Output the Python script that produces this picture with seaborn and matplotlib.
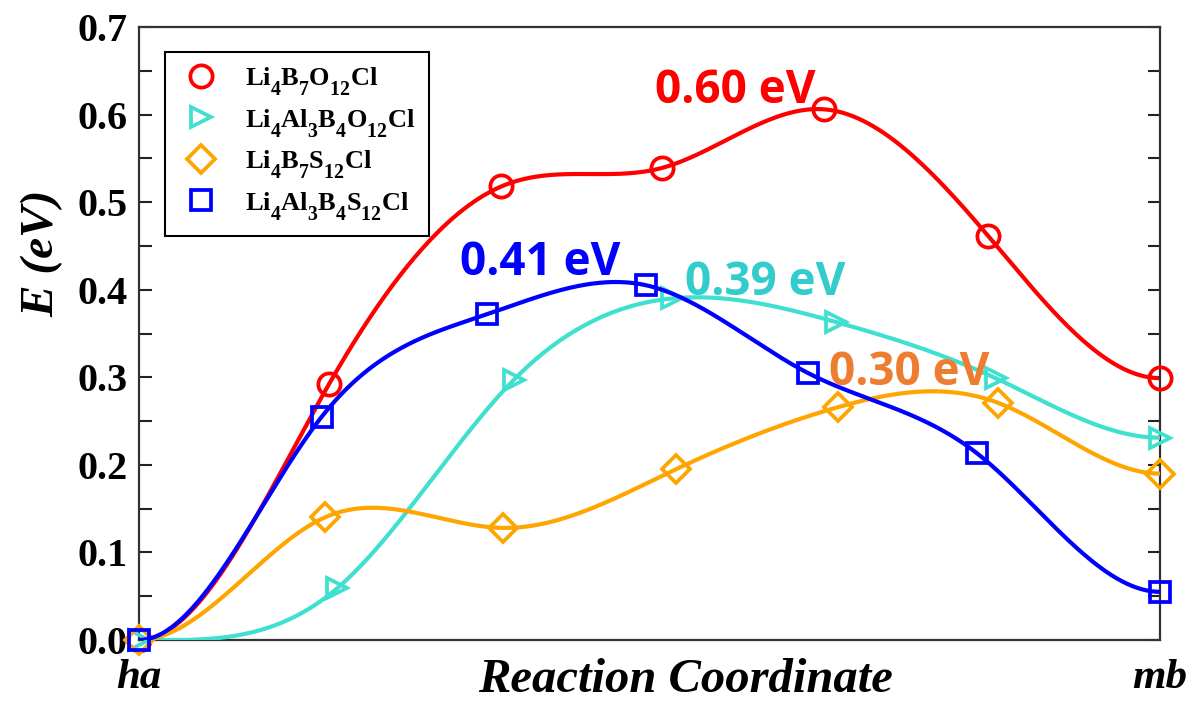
import numpy as np
import pandas as pd
import matplotlib
matplotlib.use("Agg")
import matplotlib.pyplot as plt
import matplotlib._mathtext as mathtext_engine
from matplotlib.lines import Line2D
from matplotlib.ticker import MultipleLocator
import seaborn as sns

# NEB images along the reaction coordinate (normalised path length) and energies (eV)
series_names = [
    r"$Li_4B_7O_{12}Cl$",
    r"$Li_4Al_3B_4O_{12}Cl$",
    r"$Li_4B_7S_{12}Cl$",
    r"$Li_4Al_3B_4S_{12}Cl$",
]
x_b7o = [0.0, 0.186, 0.355, 0.512, 0.671, 0.832, 1.0]
e_b7o = [0.0, 0.292, 0.518, 0.539, 0.606, 0.461, 0.299]

x_al_o = [0.0, 0.194, 0.367, 0.522, 0.683, 0.839, 1.0]
e_al_o = [0.0, 0.059, 0.297, 0.390, 0.363, 0.299, 0.231]

x_b7s = [0.0, 0.182, 0.357, 0.526, 0.685, 0.841, 1.0]
e_b7s = [0.0, 0.140, 0.128, 0.195, 0.266, 0.271, 0.190]

x_al_s = [0.0, 0.179, 0.341, 0.497, 0.655, 0.821, 1.0]
e_al_s = [0.0, 0.255, 0.372, 0.405, 0.305, 0.213, 0.055]

barrier_labels = ["0.60 eV", "0.39 eV", "0.30 eV", "0.41 eV"]
barrier_pos = [(0.505, 0.613), (0.535, 0.394), (0.676, 0.291), (0.314, 0.417)]

line_colors = ["#FF0000", "#40E0D0", "#FFA500", "#0000FF"]
label_colors = ["#FF0000", "#33CCCC", "#ED7D31", "#0000FF"]
markers = ["o", ">", "D", "s"]
marker_sizes = [16, 15, 14, 14]

xs_all = [x_b7o, x_al_o, x_b7s, x_al_s]
es_all = [e_b7o, e_al_o, e_b7s, e_al_s]


def clamped_spline(x, y, n=400):
    """Cubic spline through the images with zero slope at both end points."""
    x = np.asarray(x, float)
    y = np.asarray(y, float)
    m = len(x)
    h = np.diff(x)
    A = np.zeros((m, m))
    b = np.zeros(m)
    A[0, 0], A[0, 1] = 2 * h[0], h[0]
    b[0] = 6 * ((y[1] - y[0]) / h[0])
    A[-1, -2], A[-1, -1] = h[-1], 2 * h[-1]
    b[-1] = 6 * (0 - (y[-1] - y[-2]) / h[-1])
    for i in range(1, m - 1):
        A[i, i - 1] = h[i - 1]
        A[i, i] = 2 * (h[i - 1] + h[i])
        A[i, i + 1] = h[i]
        b[i] = 6 * ((y[i + 1] - y[i]) / h[i] - (y[i] - y[i - 1]) / h[i - 1])
    M = np.linalg.solve(A, b)
    xf = np.linspace(x[0], x[-1], n)
    idx = np.clip(np.searchsorted(x, xf) - 1, 0, m - 2)
    x0, x1 = x[idx], x[idx + 1]
    hh = x1 - x0
    yf = (M[idx] * (x1 - xf) ** 3 / (6 * hh) + M[idx + 1] * (xf - x0) ** 3 / (6 * hh)
          + (y[idx] / hh - M[idx] * hh / 6) * (x1 - xf)
          + (y[idx + 1] / hh - M[idx + 1] * hh / 6) * (xf - x0))
    return xf, yf


sns.set_style("ticks")
plt.rcParams["font.family"] = ["Liberation Serif", "DejaVu Serif"]
plt.rcParams["mathtext.fontset"] = "custom"
plt.rcParams["mathtext.bf"] = "Liberation Serif:bold"
plt.rcParams["mathtext.rm"] = "Liberation Serif:bold"
plt.rcParams["mathtext.default"] = "bf"
for key in ["text.color", "axes.labelcolor", "xtick.color", "ytick.color"]:
    plt.rcParams[key] = "black"
# chemical-formula subscripts: slightly larger and dropped lower
mathtext_engine.SHRINK_FACTOR = 0.75
mathtext_engine.FontConstantsBase.subdrop = 0.9
mathtext_engine.FontConstantsBase.sub1 = 0.9

fig = plt.figure(figsize=(11.99, 7.02), dpi=100)
ax = fig.add_axes([139 / 1199, 62 / 702, 1021 / 1199, 613 / 702])

for k in range(4):
    xf, yf = clamped_spline(xs_all[k], es_all[k])
    curve = pd.DataFrame({"x": xf, "E": yf})
    sns.lineplot(data=curve, x="x", y="E", ax=ax, color=line_colors[k], lw=3.0,
                 sort=False, estimator=None, zorder=2 + 2 * k)
    pts = pd.DataFrame({"x": xs_all[k], "E": es_all[k]})
    sns.lineplot(data=pts, x="x", y="E", ax=ax, linestyle="none", marker=markers[k],
                 ms=marker_sizes[k], mfc="none", mec=line_colors[k], mew=2.7,
                 sort=False, estimator=None, clip_on=False, zorder=3 + 2 * k)

for k in range(4):
    ax.text(barrier_pos[k][0], barrier_pos[k][1], barrier_labels[k], color=label_colors[k],
            fontsize=33, fontweight="bold", family="Open Sans", ha="left", va="baseline",
            zorder=20)

ax.set_xlim(0, 1)
ax.set_ylim(0, 0.7)
ax.set_xticks([0, 1])
ax.set_xticklabels(["ha", "mb"], fontsize=31, fontweight="bold", fontstyle="italic")
ax.set_yticks(np.arange(0, 0.71, 0.1))
ax.set_yticklabels([f"{v:.1f}" for v in np.arange(0, 0.71, 0.1)], fontsize=29,
                   fontweight="bold")
ax.yaxis.set_minor_locator(MultipleLocator(0.05))
ax.tick_params(axis="x", length=0, pad=14)
ax.tick_params(axis="y", which="both", direction="in", length=9, width=1.5,
               left=True, right=True, pad=8, color="#222222")

for s in ax.spines.values():
    s.set_linewidth(1.6)
    s.set_color("#333333")

ax.set_xlabel("Reaction Coordinate", fontsize=35, fontweight="bold", fontstyle="italic")
ax.xaxis.set_label_coords(0.535, -0.03)
ax.set_ylabel("E (eV)", fontsize=34, fontweight="bold", fontstyle="italic")
ax.yaxis.set_label_coords(-0.074, 0.63)

handles = [Line2D([], [], linestyle="none", marker=markers[k], ms=marker_sizes[k],
                  mfc="none", mec=line_colors[k], mew=2.7) for k in range(4)]
leg = fig.legend(handles, series_names, loc="upper left",
                 bbox_to_anchor=(165 / 1199, 1 - 52 / 702), borderaxespad=0,
                 fontsize=19, frameon=True, fancybox=False, framealpha=1,
                 edgecolor="black", handlelength=1.7, handletextpad=0.85,
                 borderpad=0.5, labelspacing=0.33)
leg.get_frame().set_linewidth(1.5)

fig.savefig("out.png", dpi=100)
